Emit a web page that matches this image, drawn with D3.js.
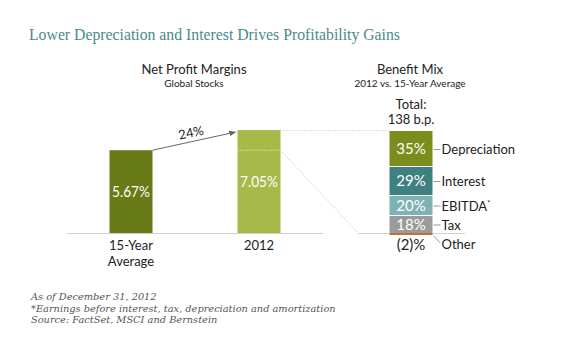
<!DOCTYPE html>
<html>
<head>
<meta charset="utf-8">
<script src="https://cdn.jsdelivr.net/npm/d3@7"></script>
<style>
  body { margin: 0; background: #fff; }
  svg { display: block; }
</style>
</head>
<body>
<div id="chart"></div>
<script>
// Net profit margins (left chart)
const marginCats = ["15-Year Average", "2012"];
const marginValues = [5.67, 7.05];
const marginChange = "24%";

// Benefit mix (right stacked bar)
const mixCats = ["Depreciation", "Interest", "EBITDA", "Tax", "Other"];
const mixValues = [35, 29, 20, 18, -2];
const mixLabels = ["35%", "29%", "20%", "18%", "(2)%"];
const mixTotal = "138 b.p.";

const footnotes = [
    "As of December 31, 2012",
    "*Earnings before interest, tax, depreciation and amortization",
    "Source: FactSet, MSCI and Bernstein"
];

const width = 580, height = 350;
const sans = "Lato, 'Noto Sans', sans-serif";
const serif = "'Liberation Serif', 'DejaVu Serif', serif";

const svg = d3.select("#chart").append("svg")
    .attr("width", width)
    .attr("height", height);

svg.append("defs").append("marker")
    .attr("id", "arrow")
    .attr("viewBox", "0 0 10 10")
    .attr("refX", 9).attr("refY", 5)
    .attr("markerWidth", 7).attr("markerHeight", 7)
    .attr("orient", "auto")
    .append("path")
    .attr("d", "M0,1 L10,5 L0,9 Z")
    .attr("fill", "#666");

// Title
svg.append("text")
    .attr("x", 29).attr("y", 40)
    .attr("font-family", serif)
    .attr("font-size", 17.5)
    .attr("fill", "#4a8b8b")
    .attr("textLength", 371)
    .attr("lengthAdjust", "spacingAndGlyphs")
    .text("Lower Depreciation and Interest Drives Profitability Gains");

const baseY = 233;

// ---- Left chart ----
const x = d3.scalePoint().domain(marginCats).range([131, 259]);
const y = d3.scaleLinear().domain([0, 8]).range([baseY, baseY - 8 * 14.6]);
const barW = 43;
const barColors = ["#677a15", "#a7b948"];

svg.append("text")
    .attr("x", 194).attr("y", 74)
    .attr("text-anchor", "middle")
    .attr("font-family", sans).attr("font-size", 13)
    .attr("fill", "#222")
    .text("Net Profit Margins");
svg.append("text")
    .attr("x", 194).attr("y", 87)
    .attr("text-anchor", "middle")
    .attr("font-family", sans).attr("font-size", 10)
    .attr("fill", "#222")
    .text("Global Stocks");

svg.append("line")
    .attr("x1", 67).attr("x2", 323)
    .attr("y1", baseY + 0.5).attr("y2", baseY + 0.5)
    .attr("stroke", "#d0d0d0");

svg.selectAll(".bar")
    .data(marginValues)
    .enter().append("rect")
    .attr("class", "bar")
    .attr("x", (d, i) => x(marginCats[i]) - barW / 2)
    .attr("y", d => y(d))
    .attr("width", barW)
    .attr("height", d => baseY - y(d))
    .attr("fill", (d, i) => barColors[i]);

svg.selectAll(".barLabel")
    .data(marginValues)
    .enter().append("text")
    .attr("class", "barLabel")
    .attr("x", (d, i) => x(marginCats[i]))
    .attr("y", d => (y(d) + baseY) / 2)
    .attr("dy", "0.35em")
    .attr("text-anchor", "middle")
    .attr("font-family", sans).attr("font-size", 16)
    .attr("textLength", barW - 5)
    .attr("lengthAdjust", "spacingAndGlyphs")
    .attr("fill", "#fff")
    .text(d => d.toFixed(2) + "%");

// category labels
const catLines = [["15-Year", "Average"], ["2012"]];
marginCats.forEach((c, i) => {
    catLines[i].forEach((t, j) => {
        svg.append("text")
            .attr("x", x(c)).attr("y", 250 + j * 16)
            .attr("text-anchor", "middle")
            .attr("font-family", sans).attr("font-size", 13)
            .attr("fill", "#222")
            .text(t);
    });
});

// white dotted line inside 2012 bar at 15-year level
svg.append("line")
    .attr("x1", x(marginCats[1]) - barW / 2).attr("x2", x(marginCats[1]) + barW / 2)
    .attr("y1", y(marginValues[0])).attr("y2", y(marginValues[0]))
    .attr("stroke", "#fff").attr("stroke-dasharray", "1,2");

// arrow with change label
const ax1 = x(marginCats[0]) + barW / 2, ay1 = y(marginValues[0]);
const ax2 = x(marginCats[1]) - barW / 2 - 2, ay2 = y(marginValues[1]) + 2;
svg.append("line")
    .attr("x1", ax1).attr("y1", ay1)
    .attr("x2", ax2).attr("y2", ay2)
    .attr("stroke", "#666").attr("stroke-width", 1)
    .attr("marker-end", "url(#arrow)");
const ang = Math.atan2(ay2 - ay1, ax2 - ax1) * 180 / Math.PI;
svg.append("text")
    .attr("transform", `translate(${(ax1 + ax2) / 2 - 2},${(ay1 + ay2) / 2 - 4}) rotate(${ang})`)
    .attr("text-anchor", "middle")
    .attr("font-family", sans).attr("font-size", 13)
    .attr("fill", "#222")
    .text(marginChange);

// ---- Right stacked bar ----
const sx = 411, sw = 43;
const posTotal = d3.sum(mixValues.filter(v => v > 0));
const sy = d3.scaleLinear().domain([0, posTotal]).range([baseY, baseY - 102]);
const mixColors = ["#7b8d1c", "#3f8080", "#80b1b4", "#9b9b9b", "#c86a3e"];

let acc = posTotal;
const segs = mixValues.map((v, i) => {
    let top, bot;
    if (v >= 0) { top = acc; bot = acc - v; acc -= v; }
    else { top = 0; bot = v; }
    return { cat: mixCats[i], v, top, bot, label: mixLabels[i], color: mixColors[i] };
});

svg.append("text")
    .attr("x", 410).attr("y", 74)
    .attr("text-anchor", "middle")
    .attr("font-family", sans).attr("font-size", 13)
    .attr("fill", "#222")
    .text("Benefit Mix");
svg.append("text")
    .attr("x", 410).attr("y", 87)
    .attr("text-anchor", "middle")
    .attr("font-family", sans).attr("font-size", 10)
    .attr("fill", "#222")
    .text("2012 vs. 15-Year Average");
svg.append("text")
    .attr("x", sx).attr("y", 109)
    .attr("text-anchor", "middle")
    .attr("font-family", sans).attr("font-size", 13)
    .attr("fill", "#222")
    .text("Total:");
svg.append("text")
    .attr("x", sx).attr("y", 124)
    .attr("text-anchor", "middle")
    .attr("font-family", sans).attr("font-size", 13)
    .attr("fill", "#222")
    .text(mixTotal);

// connector dotted lines from 2012 bar to stack
const bx = x(marginCats[1]) + barW / 2;
svg.append("line")
    .attr("x1", bx).attr("x2", sx - sw / 2)
    .attr("y1", y(marginValues[1]) + 0.5).attr("y2", y(marginValues[1]) + 0.5)
    .attr("stroke", "#bbb").attr("stroke-dasharray", "1,2");
svg.append("line")
    .attr("x1", bx).attr("y1", y(marginValues[0]))
    .attr("x2", 358).attr("y2", baseY)
    .attr("stroke", "#bbb").attr("stroke-dasharray", "1,2");

svg.append("line")
    .attr("x1", 358).attr("x2", 465)
    .attr("y1", baseY + 0.5).attr("y2", baseY + 0.5)
    .attr("stroke", "#d0d0d0");

svg.selectAll(".seg")
    .data(segs)
    .enter().append("rect")
    .attr("class", "seg")
    .attr("x", sx - sw / 2)
    .attr("y", d => sy(d.top) + (d.v > 0 && d.top < posTotal ? 1 : 0))
    .attr("width", sw)
    .attr("height", d => sy(d.bot) - sy(d.top) - (d.v > 0 && d.top < posTotal ? 1 : 0))
    .attr("fill", d => d.color);

const posSegs = segs.filter(d => d.v > 0);
svg.selectAll(".segLabel")
    .data(posSegs)
    .enter().append("text")
    .attr("class", "segLabel")
    .attr("x", sx)
    .attr("y", d => (sy(d.top) + sy(d.bot)) / 2 + 0.5)
    .attr("dy", "0.35em")
    .attr("text-anchor", "middle")
    .attr("font-family", sans).attr("font-size", 15)
    .attr("fill", "#fff")
    .text(d => d.label);

// category names with tick lines
svg.selectAll(".segTick")
    .data(posSegs)
    .enter().append("line")
    .attr("class", "segTick")
    .attr("x1", sx + sw / 2 + 1).attr("x2", sx + sw / 2 + 8)
    .attr("y1", d => (sy(d.top) + sy(d.bot)) / 2 + 1)
    .attr("y2", d => (sy(d.top) + sy(d.bot)) / 2 + 1)
    .attr("stroke", "#999");

const catText = svg.selectAll(".segCat")
    .data(posSegs)
    .enter().append("text")
    .attr("class", "segCat")
    .attr("x", sx + sw / 2 + 9)
    .attr("y", d => (sy(d.top) + sy(d.bot)) / 2 + 1)
    .attr("dy", "0.35em")
    .attr("font-family", sans).attr("font-size", 13)
    .attr("fill", "#222")
    .text(d => d.cat);
catText.filter(d => d.cat === "EBITDA")
    .append("tspan")
    .attr("font-size", 7)
    .attr("dy", "-0.6em")
    .text("*");

// negative segment labels
const neg = segs.filter(d => d.v < 0);
neg.forEach(d => {
    svg.append("text")
        .attr("x", sx).attr("y", sy(d.bot) + 10)
        .attr("dy", "0.35em")
        .attr("text-anchor", "middle")
        .attr("font-family", sans).attr("font-size", 15)
        .attr("fill", "#222")
        .text(d.label);
    svg.append("line")
        .attr("x1", sx + sw / 2 + 1).attr("y1", sy(d.bot) + 1)
        .attr("x2", sx + sw / 2 + 8).attr("y2", sy(d.bot) + 8)
        .attr("stroke", "#999");
    svg.append("text")
        .attr("x", sx + sw / 2 + 9).attr("y", sy(d.bot) + 9)
        .attr("dy", "0.35em")
        .attr("font-family", sans).attr("font-size", 13)
        .attr("fill", "#222")
        .text(d.cat);
});

// Footnotes
svg.selectAll(".foot")
    .data(footnotes)
    .enter().append("text")
    .attr("class", "foot")
    .attr("x", 31)
    .attr("y", (d, i) => 300 + i * 11.5)
    .attr("font-family", "'DejaVu Serif', serif").attr("font-style", "italic")
    .attr("font-size", 9.8)
    .attr("fill", "#555")
    .text(d => d);
</script>
</body>
</html>
